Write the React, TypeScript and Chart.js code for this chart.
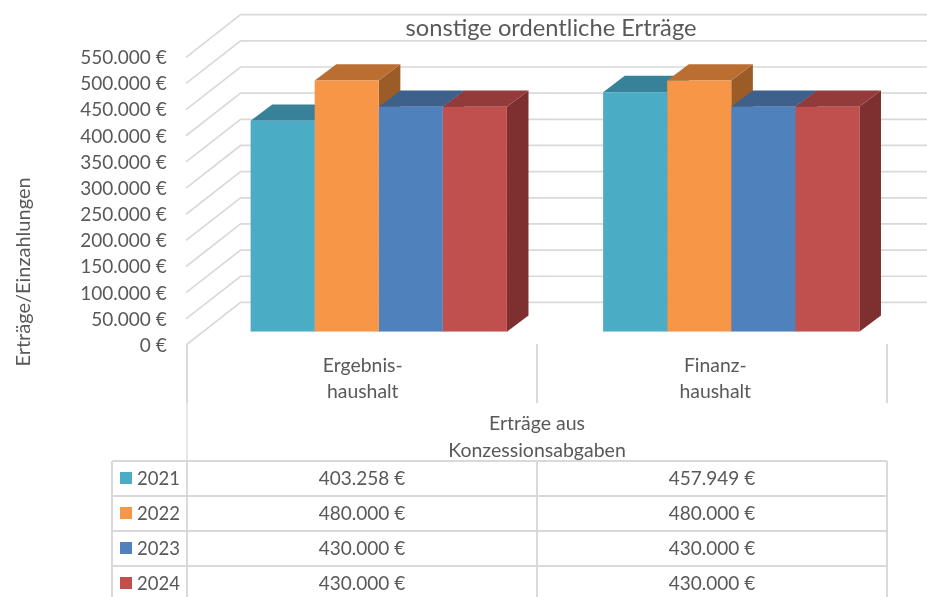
import React, { useEffect, useRef } from "react";
import { Chart, registerables } from "chart.js";

Chart.register(...registerables);

const categories = [["Ergebnis-", "haushalt"], ["Finanz-", "haushalt"]];
const groupLabel = ["Erträge aus", "Konzessionsabgaben"];
const chartTitle = "sonstige ordentliche Erträge";
const axisTitle = "Erträge/Einzahlungen";
const years = ["2021", "2022", "2023", "2024"];
const values2021 = [403258, 457949];
const values2022 = [480000, 480000];
const values2023 = [430000, 430000];
const values2024 = [430000, 430000];
const frontColors = ["#4BACC6", "#F79646", "#4F81BD", "#C0504D"];
const topColors = ["#388299", "#BB6E32", "#3E618C", "#933B3A"];
const sideColors = ["#2F6F82", "#9C5C28", "#345274", "#7D302F"];

const FONT = "Lato, Carlito, sans-serif";
const TEXT = "#595959";
const LINE = "#D9D9D9";

const fmt = (v: number) =>
  String(Math.round(v)).replace(/\B(?=(\d{3})+(?!\d))/g, ".") + " €";

const chrome3d = {
  id: "chrome3d",
  beforeDatasetsDraw(chart: any) {
    const { ctx, scales } = chart;
    const yS = scales.y;
    const wallFront = 13.3;
    const wallDx = 54.6;
    const wallDy = 42.6;
    ctx.save();

    // perspective gridlines
    ctx.strokeStyle = LINE;
    ctx.lineWidth = 1.7;
    yS.ticks.forEach((t: any) => {
      const fy = yS.getPixelForValue(t.value) + wallFront;
      ctx.beginPath();
      ctx.moveTo(186, fy);
      ctx.lineTo(186 + wallDx, fy - wallDy);
      ctx.lineTo(927, fy - wallDy);
      ctx.stroke();
    });

    // bar top and side faces, left to right
    const dx = 21.6;
    const dy = 16.3;
    for (let c = 0; c < categories.length; c++) {
      for (let s = 0; s < years.length; s++) {
        const el = chart.getDatasetMeta(s).data[c];
        const l = el.x - el.width / 2;
        const r = el.x + el.width / 2;
        const top = el.y;
        const base = el.base;
        ctx.fillStyle = sideColors[s];
        ctx.beginPath();
        ctx.moveTo(r, top);
        ctx.lineTo(r + dx, top - dy);
        ctx.lineTo(r + dx, base - dy);
        ctx.lineTo(r, base);
        ctx.closePath();
        ctx.fill();
        ctx.fillStyle = topColors[s];
        ctx.beginPath();
        ctx.moveTo(l, top);
        ctx.lineTo(l + dx, top - dy);
        ctx.lineTo(r + dx, top - dy);
        ctx.lineTo(r, top);
        ctx.closePath();
        ctx.fill();
      }
    }
    ctx.restore();
  },
  afterDraw(chart: any) {
    const { ctx } = chart;
    const colX = [112, 187, 537, 887];
    const rowY = [461, 496, 531, 566];
    const rowText = [479, 514, 549, 584];
    ctx.save();
    ctx.strokeStyle = LINE;
    const seg = (x1: number, y1: number, x2: number, y2: number, w: number) => {
      ctx.lineWidth = w;
      ctx.beginPath();
      ctx.moveTo(x1, y1);
      ctx.lineTo(x2, y2);
      ctx.stroke();
    };
    // category separators
    [187, 537, 887].forEach((x) => seg(x, 344, x, 403, 2));
    seg(187, 403, 187, 461, 1.2);
    // table
    rowY.forEach((y) => seg(colX[0], y, colX[3], y, 2));
    colX.forEach((x) => seg(x, 461, x, 597, 2));

    ctx.fillStyle = TEXT;
    ctx.textBaseline = "middle";
    ctx.textAlign = "center";
    ctx.font = `23.7px ${FONT}`;
    ctx.fillText(chartTitle, 551, 28.5);
    ctx.font = `19.5px ${FONT}`;
    ctx.fillText(groupLabel[0], 537, 423.5);
    ctx.fillText(groupLabel[1], 537, 450.5);

    years.forEach((yr, s) => {
      const y = rowText[s];
      ctx.fillStyle = frontColors[s];
      ctx.fillRect(120, y - 7, 12, 12);
      ctx.fillStyle = TEXT;
      ctx.font = `18.5px ${FONT}`;
      ctx.textAlign = "left";
      ctx.fillText(yr, 137, y);
      ctx.textAlign = "center";
      const vals = chart.data.datasets[s].data;
      ctx.font = `19px ${FONT}`;
      ctx.fillText(fmt(vals[0]), 362, y);
      ctx.fillText(fmt(vals[1]), 712, y);
    });

    ctx.translate(24, 272);
    ctx.rotate(-Math.PI / 2);
    ctx.font = `20px ${FONT}`;
    ctx.fillText(axisTitle, 0, 0);
    ctx.restore();
  },
};

export default function App() {
  const ref = useRef<HTMLCanvasElement>(null);
  useEffect(() => {
    const seriesValues = [values2021, values2022, values2023, values2024];
    const chart = new Chart(ref.current as HTMLCanvasElement, {
      type: "bar",
      data: {
        labels: categories as any,
        datasets: years.map((y, i) => ({
          label: y,
          data: seriesValues[i],
          backgroundColor: frontColors[i],
          borderWidth: 0,
          barPercentage: 1,
          categoryPercentage: 0.727,
        })),
      },
      plugins: [chrome3d],
      options: {
        animation: false,
        responsive: false,
        layout: { padding: { top: 44, right: 19.5, left: 0, bottom: 0 } },
        plugins: {
          legend: { display: false },
          tooltip: { enabled: false },
          title: { display: false },
        },
        scales: {
          x: {
            grid: { display: false, drawTicks: false },
            border: { display: false },
            ticks: {
              color: TEXT,
              font: { family: FONT, size: 19.4, lineHeight: 26 / 19.4 },
              padding: 21,
              labelOffset: -16,
              maxRotation: 0,
              autoSkip: false,
            },
            afterFit(s: any) {
              s.height = 597 - 331.7;
            },
          },
          y: {
            min: 0,
            max: 550000,
            grid: { display: false, drawTicks: false },
            border: { display: false },
            ticks: {
              stepSize: 50000,
              color: TEXT,
              font: { family: FONT, size: 19 },
              padding: 35.8,
              labelOffset: 14,
              callback: (v: any) => fmt(Number(v)),
            },
            afterFit(s: any) {
              s.width = 202.5;
              s.paddingTop = 0;
              s.paddingBottom = 0;
            },
          },
        },
      } as any,
    });
    return () => chart.destroy();
  }, []);
  return (
    <div style={{ position: "absolute", left: 0, top: 0, width: 927, height: 597, background: "#fff", overflow: "hidden" }}>
      <canvas ref={ref} width={927} height={597} style={{ display: "block" }} />
    </div>
  );
}
